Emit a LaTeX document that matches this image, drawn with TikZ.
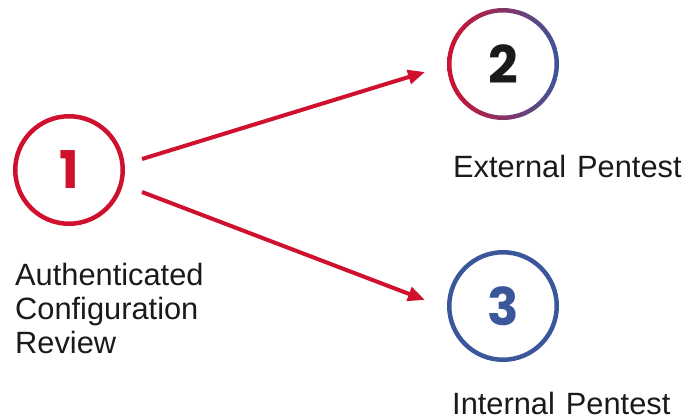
\documentclass[tikz,border=0pt]{standalone}
\usepackage{fontspec}
\setmainfont{Liberation Sans}
\newfontfamily\numfont{Poppins}
\usetikzlibrary{arrows.meta,calc}
\definecolor{crimson}{RGB}{208,17,46}
\definecolor{navy}{RGB}{59,87,155}
\definecolor{ink}{RGB}{26,26,26}
\begin{document}
\begin{tikzpicture}[x=1pt,y=-1pt,
  ring/.style={circle, inner sep=0pt, minimum size=107.5pt, line width=4.5pt},
  num/.style={font=\numfont\bfseries\fontsize{52}{52}\selectfont},
  txt/.style={font=\fontsize{30.8}{34}\selectfont, text=ink, inner sep=0pt, align=left},
  arr/.style={crimson, line width=4pt, -{Triangle[length=17pt,width=14pt]}}]
\useasboundingbox (0,0) rectangle (688,418);
% step circles
\node[ring, draw=crimson, num, text=crimson] (n1) at (69,170) {1};
\node[ring, num, text=ink] (n2) at (503,64) {2};
\path[left color=crimson, right color=navy, even odd rule]
  (n2.center) circle[radius=56] circle[radius=51.5];
\node[ring, draw=navy, num, text=navy] (n3) at (503,306) {3};
% captions (base anchor sits on the last line)
\node[txt, anchor=base west] (t1) at (15,353) {Authenticated\\Configuration\\Review};
\node[txt, anchor=base west] (t2) at (453,177) {External\hspace{11pt}Pentest};
\node[txt, anchor=base west] (t3) at (452,414) {Internal\hspace{11pt}Pentest};
% connectors
\draw[arr] ($(n1.center)+(73,-11)$) -- ($(n2.center)+(-78,8)$);
\draw[arr] ($(n1.center)+(73,22)$) -- ($(n3.center)+(-78,-6)$);
\end{tikzpicture}
\end{document}
